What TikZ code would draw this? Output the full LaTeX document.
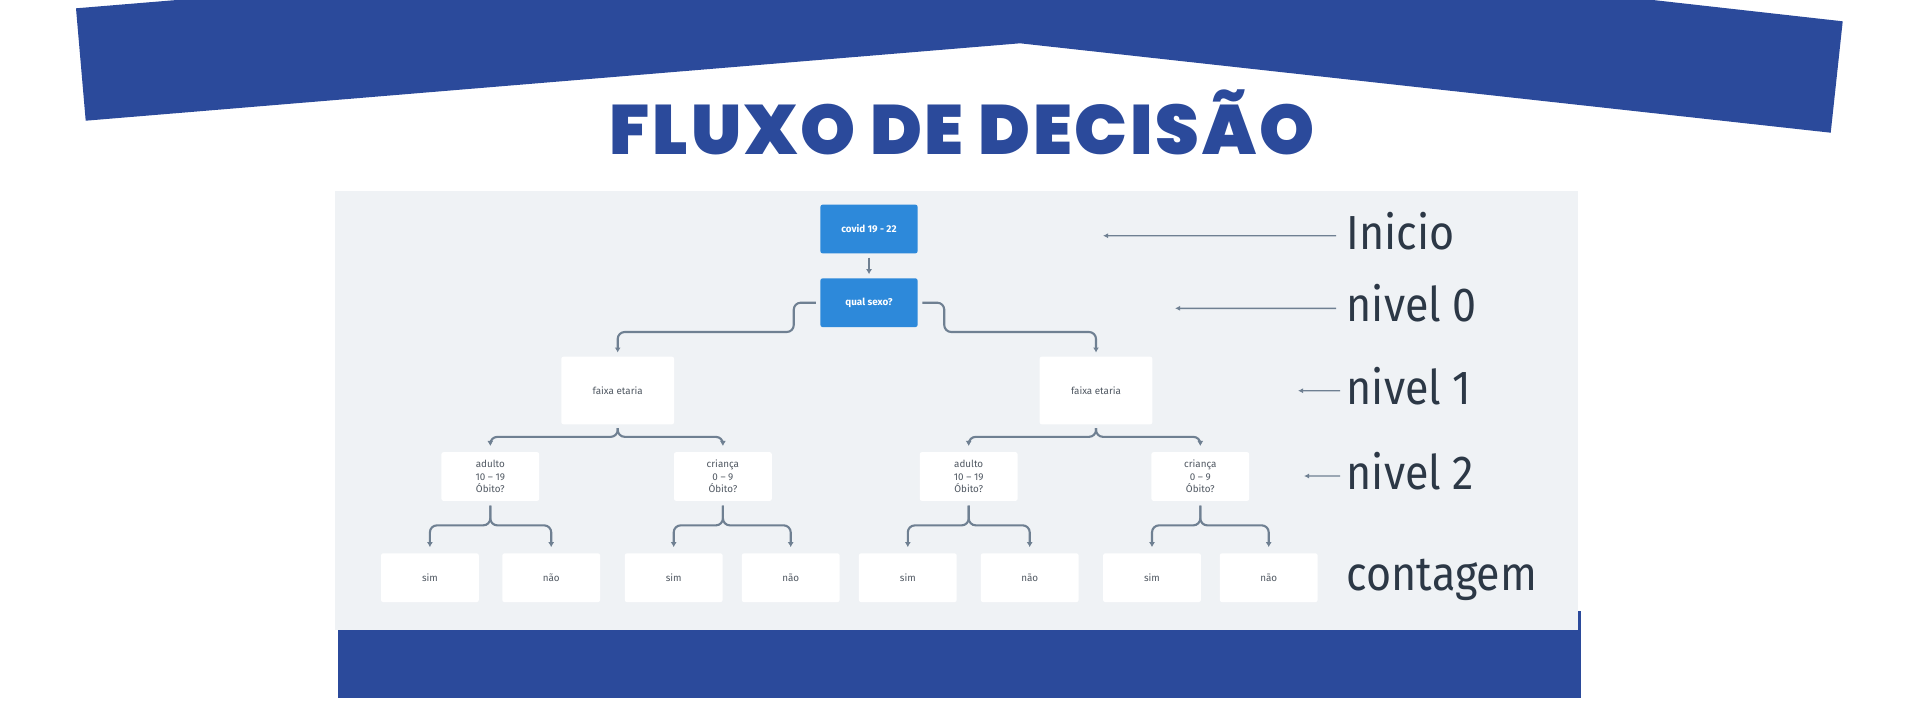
\documentclass[tikz,border=0pt]{standalone}
\usepackage{fontspec}
\usetikzlibrary{arrows.meta,calc}
\setmainfont{Fira Sans}
\newfontfamily\titlefont{Poppins Black}[LetterSpace=4]
\newfontfamily\lvlfont{Fira Sans}[FakeStretch=0.9]
\definecolor{navy}{RGB}{43,74,155}
\definecolor{boxblue}{RGB}{45,137,218}
\definecolor{panel}{RGB}{239,242,245}
\definecolor{connc}{RGB}{111,128,146}
\definecolor{lvltext}{RGB}{44,56,70}
\definecolor{boxtext}{RGB}{80,88,98}
\pgfdeclarelayer{bg}
\pgfsetlayers{bg,main}
\tikzset{
    box/.style={rectangle, fill=white, inner sep=0mm, minimum width=0.977cm, minimum height=0.487cm,
      rounded corners=0.2mm, align=center, text=boxtext, font=\fontsize{2.8}{3.6}\selectfont},
    bluebox/.style={box, fill=boxblue, text=white, minimum width=0.971cm, minimum height=0.486cm,
      font=\fontsize{2.8}{3.6}\selectfont\bfseries},
    midbox/.style={box, minimum width=1.126cm, minimum height=0.676cm},
    conn/.style={draw=connc, line width=0.6pt, rounded corners=0.7mm, -{Latex[length=0.5mm,width=0.6mm]}},
    lvl/.style={anchor=base west, inner sep=0mm, text=lvltext, font=\lvlfont\fontsize{13.6}{16}\selectfont},
    lvlarrow/.style={draw=connc, line width=0.4pt, -{Latex[length=0.5mm,width=0.5mm]}}
}

\begin{document}
\begin{tikzpicture}
  \useasboundingbox (0cm, 0cm) rectangle (19.2cm, 7cm);

  \node[anchor=base, inner sep=0mm, text=navy, font=\titlefont\fontsize{19.9}{24}\selectfont] (ttl) at (9.62cm, 5.46cm) {FLUXO DE DECISÃO};

  \node[bluebox] (t1) at (8.69cm, 4.71cm) {covid 19 - 22};
  \node[bluebox] (t2) at (8.69cm, 3.973cm) {qual sexo?};

  \node[midbox] (f1) at (6.177cm, 3.095cm) {faixa etaria};
  \node[midbox] (f2) at (10.96cm, 3.095cm) {faixa etaria};

  \node[box] (a1) at (4.903cm, 2.235cm) {adulto\\10 – 19\\Óbito?};
  \node[box] (c1) at (7.229cm, 2.235cm) {criança\\0 – 9\\Óbito?};
  \node[box] (a2) at (9.687cm, 2.235cm) {adulto\\10 – 19\\Óbito?};
  \node[box] (c2) at (12.003cm, 2.235cm) {criança\\0 – 9\\Óbito?};

  \node[box] (s1) at (4.299cm, 1.223cm) {sim};
  \node[box] (n1) at (5.512cm, 1.223cm) {não};
  \node[box] (s2) at (6.737cm, 1.223cm) {sim};
  \node[box] (n2) at (7.907cm, 1.223cm) {não};
  \node[box] (s3) at (9.078cm, 1.223cm) {sim};
  \node[box] (n3) at (10.297cm, 1.223cm) {não};
  \node[box] (s4) at (11.52cm, 1.223cm) {sim};
  \node[box] (n4) at (12.687cm, 1.223cm) {não};

  \node[lvl] (l0) at (13.46cm, 4.508cm) {Inicio};
  \node[lvl] (l1) at (13.46cm, 3.782cm) {nivel 0};
  \node[lvl] (l2) at (13.46cm, 2.958cm) {nivel 1};
  \node[lvl] (l3) at (13.46cm, 2.105cm) {nivel 2};
  \node[lvl] (l4) at (13.46cm, 1.10cm) {contagem};

  \coordinate (e0) at (11.03cm, 4.643cm);
  \coordinate (e1) at (11.75cm, 3.917cm);
  \coordinate (e2) at (12.98cm, 3.093cm);
  \coordinate (e3) at (13.04cm, 2.24cm);

  \begin{pgfonlayer}{bg}
	  % faixa superior, painel e barra inferior
	  \fill[navy] (0.76cm, 6.917cm) -- (1.767cm, 7cm) -- (16.53cm, 7cm) -- (18.427cm, 6.787cm)
	    -- (18.307cm, 5.673cm) -- (10.2cm, 6.567cm) -- (0.857cm, 5.793cm) -- cycle;
	  \fill[panel] (3.35cm, 0.70cm) rectangle (15.783cm, 5.093cm);
	  \fill[navy] (3.377cm, 0.017cm) rectangle (15.81cm, 0.70cm);
	  \fill[navy] (15.783cm, 0.70cm) rectangle (15.81cm, 0.89cm);
  \end{pgfonlayer}

  \draw[conn] ([yshift=-0.35mm]t1.south) -- ([yshift=0.35mm]t2.north);

  \draw[conn] ([xshift=-0.4mm]t2.west) -- ++(-2.2mm,0) |- ($(f1.north)+(0,2.4mm)$) -- ([yshift=0.35mm]f1.north);
  \draw[conn] ([xshift=0.4mm]t2.east) -- ++(2.2mm,0) |- ($(f2.north)+(0,2.4mm)$) -- ([yshift=0.35mm]f2.north);

  \draw[conn] ([yshift=-0.3mm]f1.south) |- ($(a1.north)+(0,1.46mm)$) -- ([yshift=0.55mm]a1.north);
  \draw[conn] ([yshift=-0.3mm]f1.south) |- ($(c1.north)+(0,1.46mm)$) -- ([yshift=0.55mm]c1.north);
  \draw[conn] ([yshift=-0.3mm]f2.south) |- ($(a2.north)+(0,1.46mm)$) -- ([yshift=0.55mm]a2.north);
  \draw[conn] ([yshift=-0.3mm]f2.south) |- ($(c2.north)+(0,1.46mm)$) -- ([yshift=0.55mm]c2.north);

  \draw[conn] ([yshift=-0.4mm]a1.south) |- ($(s1.north)+(0,2.73mm)$) -- ([yshift=0.55mm]s1.north);
  \draw[conn] ([yshift=-0.4mm]a1.south) |- ($(n1.north)+(0,2.73mm)$) -- ([yshift=0.55mm]n1.north);
  \draw[conn] ([yshift=-0.4mm]c1.south) |- ($(s2.north)+(0,2.73mm)$) -- ([yshift=0.55mm]s2.north);
  \draw[conn] ([yshift=-0.4mm]c1.south) |- ($(n2.north)+(0,2.73mm)$) -- ([yshift=0.55mm]n2.north);
  \draw[conn] ([yshift=-0.4mm]a2.south) |- ($(s3.north)+(0,2.73mm)$) -- ([yshift=0.55mm]s3.north);
  \draw[conn] ([yshift=-0.4mm]a2.south) |- ($(n3.north)+(0,2.73mm)$) -- ([yshift=0.55mm]n3.north);
  \draw[conn] ([yshift=-0.4mm]c2.south) |- ($(s4.north)+(0,2.73mm)$) -- ([yshift=0.55mm]s4.north);
  \draw[conn] ([yshift=-0.4mm]c2.south) |- ($(n4.north)+(0,2.73mm)$) -- ([yshift=0.55mm]n4.north);

  \draw[lvlarrow] ([shift={(-1mm,1.35mm)}]l0.base west) -- (e0);
  \draw[lvlarrow] ([shift={(-1mm,1.35mm)}]l1.base west) -- (e1);
  \draw[lvlarrow] ([shift={(-0.6mm,1.35mm)}]l2.base west) -- (e2);
  \draw[lvlarrow] ([shift={(-0.6mm,1.35mm)}]l3.base west) -- (e3);

\end{tikzpicture}
\end{document}
